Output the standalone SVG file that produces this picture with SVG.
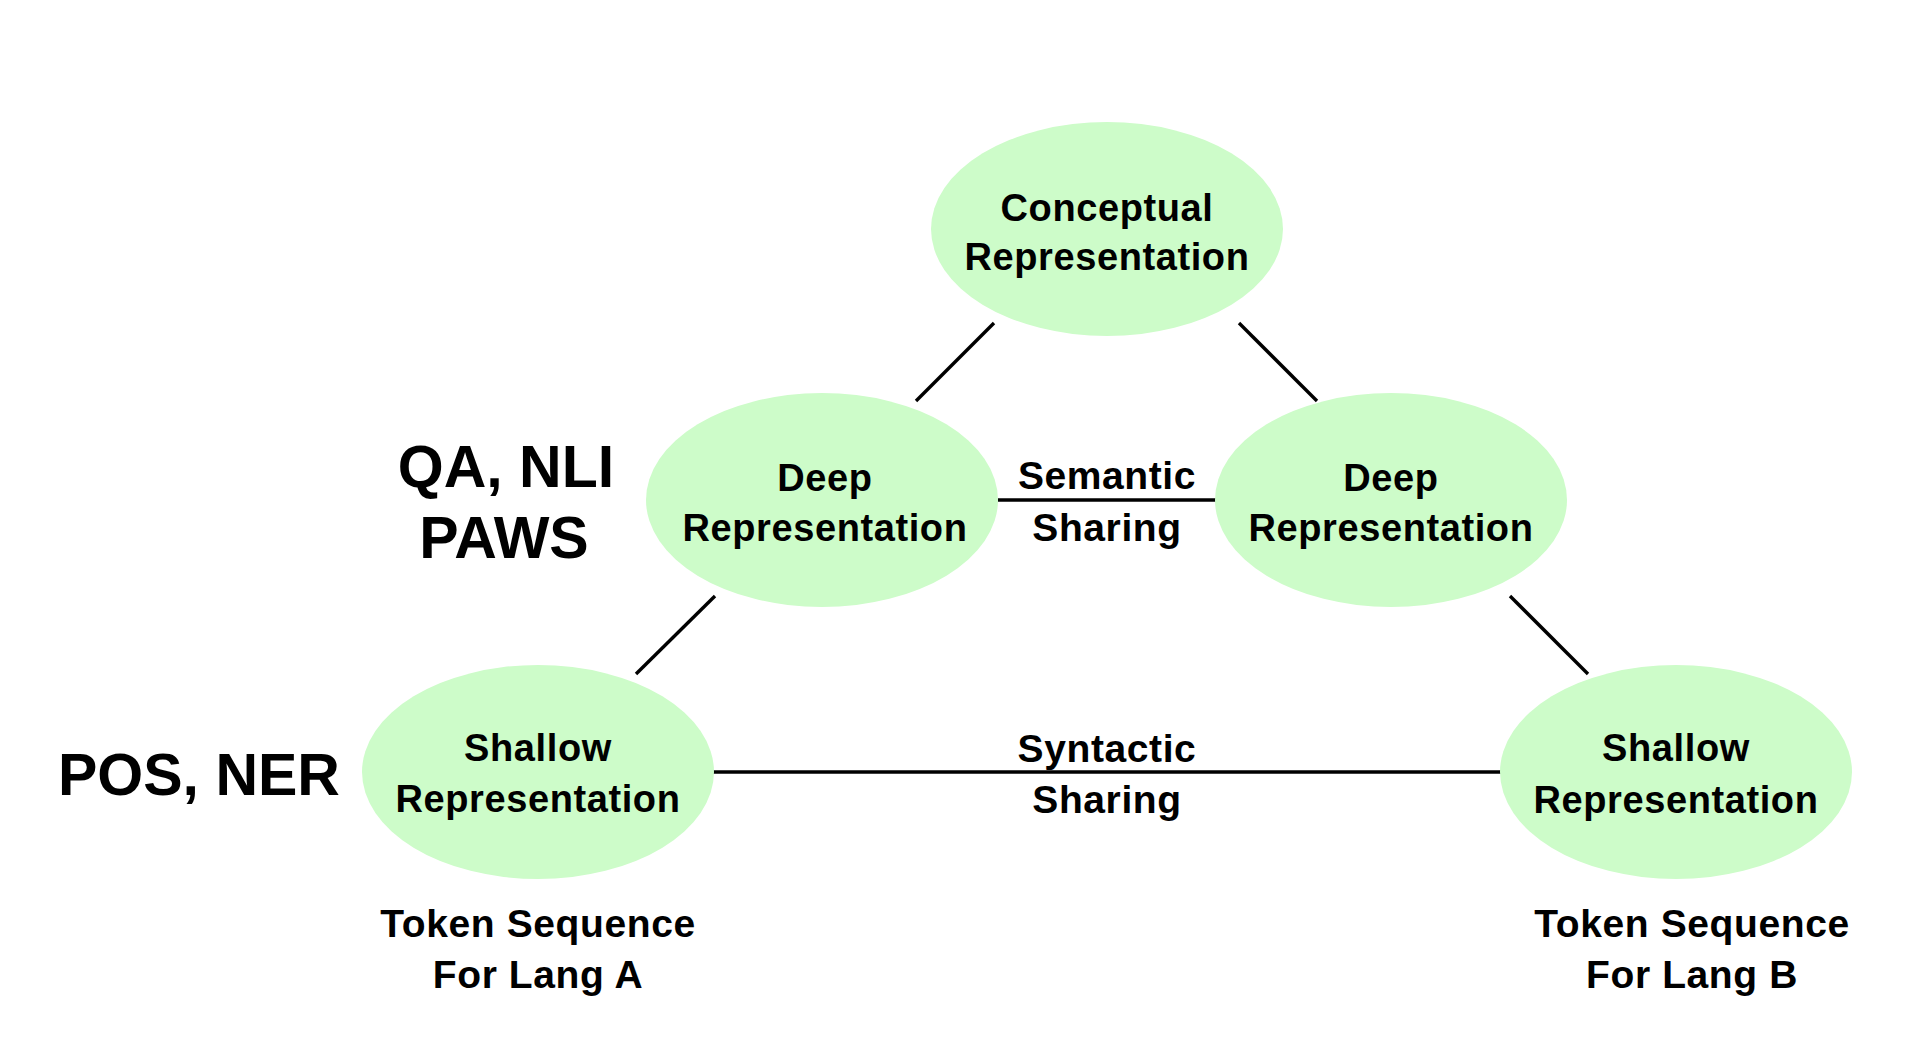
<svg xmlns="http://www.w3.org/2000/svg" width="1912" height="1054" viewBox="0 0 1912 1054">
<style>
.node ellipse{fill:#cdfcc9;stroke:none}
.t{font-family:"Liberation Sans",Arial,Helvetica,sans-serif;font-weight:bold;fill:#000;text-anchor:middle}
.nt{font-size:38px;letter-spacing:0.6px}
.lab{font-size:39px;letter-spacing:0.6px}
.big{font-size:59px}
#connectors line{stroke:#000;stroke-width:3.4;stroke-linecap:butt}
</style>
<rect width="1912" height="1054" fill="#fff"/>
<g id="connectors">
<line x1="994" y1="323" x2="916" y2="401"/>
<line x1="1239" y1="323" x2="1317" y2="401"/>
<line x1="715" y1="596" x2="636" y2="674"/>
<line x1="1510" y1="596" x2="1588" y2="674"/>
<line x1="998" y1="500" x2="1216" y2="500"/>
<line x1="713" y1="772" x2="1501" y2="772"/>
</g>
<g id="conceptual" class="node">
<ellipse cx="1107" cy="229" rx="176" ry="107"/>
<text class="t nt" x="1107" y="221">Conceptual</text>
<text class="t nt" x="1107" y="270">Representation</text>
</g>
<g id="deep-a" class="node">
<ellipse cx="822" cy="500" rx="176" ry="107"/>
<text class="t nt" x="825" y="491">Deep</text>
<text class="t nt" x="825" y="541">Representation</text>
</g>
<g id="deep-b" class="node">
<ellipse cx="1391" cy="500" rx="176" ry="107"/>
<text class="t nt" x="1391" y="491">Deep</text>
<text class="t nt" x="1391" y="541">Representation</text>
</g>
<g id="shallow-a" class="node">
<ellipse cx="538" cy="772" rx="176" ry="107"/>
<text class="t nt" x="538" y="761">Shallow</text>
<text class="t nt" x="538" y="812">Representation</text>
</g>
<g id="shallow-b" class="node">
<ellipse cx="1676" cy="772" rx="176" ry="107"/>
<text class="t nt" x="1676" y="761">Shallow</text>
<text class="t nt" x="1676" y="813">Representation</text>
</g>
<g id="semantic-label">
<text class="t lab" x="1107" y="489">Semantic</text>
<text class="t lab" x="1107" y="541">Sharing</text>
</g>
<g id="syntactic-label">
<text class="t lab" x="1107" y="762">Syntactic</text>
<text class="t lab" x="1107" y="813">Sharing</text>
</g>
<g id="token-a">
<text class="t lab" x="538" y="937">Token Sequence</text>
<text class="t lab" x="538" y="988">For Lang A</text>
</g>
<g id="token-b">
<text class="t lab" x="1692" y="937">Token Sequence</text>
<text class="t lab" x="1692" y="988">For Lang B</text>
</g>
<g id="task-deep">
<text class="t big" x="506" y="487">QA, NLI</text>
<text class="t big" x="504" y="558">PAWS</text>
</g>
<g id="task-shallow">
<text class="t big" x="199" y="795">POS, NER</text>
</g>
</svg>
